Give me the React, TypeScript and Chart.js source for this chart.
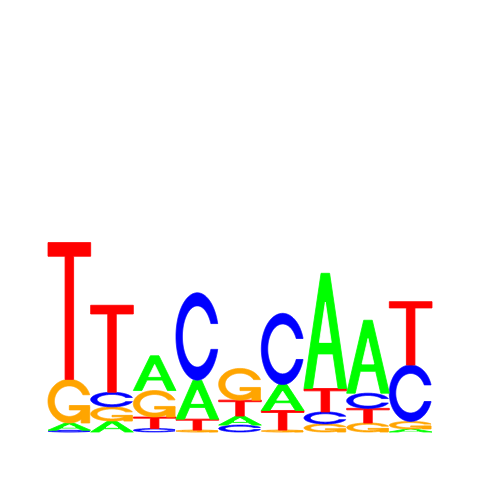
import React, { useEffect, useRef } from "react";
import { Chart, registerables } from "chart.js";

Chart.register(...registerables);

const positions = ["1", "2", "3", "4", "5", "6", "7", "8", "9"];
const letters = ["A", "C", "G", "T"];
const heightA = [0.038, 0.057, 0.181, 0.203, 0.047, 0.135, 0.6, 0.38, 0.016];
const heightC = [0.009, 0.076, 0.018, 0.455, 0.036, 0.371, 0.0625, 0.079, 0.294];
const heightG = [0.227, 0.074, 0.138, 0.01, 0.165, 0.01, 0.042, 0.047, 0.039];
const heightT = [0.7125, 0.453, 0.06, 0.057, 0.083, 0.102, 0.122, 0.076, 0.33];
const letterColors: Record<string, string> = {
  A: "#00FF00",
  C: "#0000FF",
  G: "#FFA500",
  T: "#FF0000",
};

type Poly = { xs: number[]; ys: number[]; white?: boolean };

function seq(a: number, b: number, n: number) {
  const out: number[] = [];
  for (let i = 0; i < n; i++) out.push(a + ((b - a) * i) / (n - 1));
  return out;
}

function ringC(): { xs: number[]; ys: number[]; r1: number } {
  const a1 = seq(0.3 + Math.PI / 2, Math.PI, 100);
  const a2 = seq(Math.PI, 1.5 * Math.PI, 100);
  const xl1 = a1.map((a) => 0.5 + 0.5 * Math.sin(a));
  const yl1 = a1.map((a) => 0.5 + 0.5 * Math.cos(a));
  const xl2 = a2.map((a) => 0.5 + 0.5 * Math.sin(a));
  const yl2 = a2.map((a) => 0.5 + 0.5 * Math.cos(a));
  const xl = [...xl1, ...xl2];
  const yl = [...yl1, ...yl2];
  const x = [...xl, ...[...xl].reverse()];
  const y = [...yl, ...[...yl].reverse().map((v) => 1 - v)];
  const hMax = Math.max(...yl1);
  let xi1 = a1.map((a) => 0.5 + 0.35 * Math.sin(a));
  let yi1 = a1.map((a) => 0.5 + 0.35 * Math.cos(a));
  const keep = yi1.map((v) => v <= hMax);
  xi1 = xi1.filter((_, i) => keep[i]);
  yi1 = yi1.filter((_, i) => keep[i]);
  yi1[0] = hMax;
  const xi2 = a2.map((a) => 0.5 + 0.35 * Math.sin(a));
  const yi2 = a2.map((a) => 0.5 + 0.35 * Math.cos(a));
  const xi = [...xi1, ...xi2];
  const yi = [...yi1, ...yi2];
  const x1 = [...xi, ...[...xi].reverse()];
  const y1 = [...yi, ...[...yi].reverse().map((v) => 1 - v)];
  return {
    xs: [...x, ...[...x1].reverse()],
    ys: [...y, ...[...y1].reverse()],
    r1: Math.max(...xl1),
  };
}

function letterShapes(letter: string): Poly[] {
  if (letter === "A") {
    return [
      {
        xs: [0, 4, 6, 10, 8, 6.8, 3.2, 2, 0].map((v) => v / 10),
        ys: [0, 10, 10, 0, 0, 3, 3, 0, 0].map((v) => v / 10),
      },
      {
        xs: [3.6, 5, 6.4, 3.6].map((v) => v / 10),
        ys: [4, 7.5, 4, 4].map((v) => v / 10),
        white: true,
      },
    ];
  }
  if (letter === "T") {
    return [
      {
        xs: [0, 10, 10, 6, 6, 4, 4, 0].map((v) => v / 10),
        ys: [10, 10, 9, 9, 0, 0, 9, 9].map((v) => v / 10),
      },
    ];
  }
  const c = ringC();
  if (letter === "C") return [{ xs: c.xs, ys: c.ys }];
  const h1 = 0.4;
  const r1 = c.r1;
  return [
    { xs: c.xs, ys: c.ys },
    {
      xs: [r1, 0.5, 0.5, r1 - 0.2, r1 - 0.2, r1, r1],
      ys: [h1, h1, h1 - 0.1, h1 - 0.1, 0, 0, h1],
    },
  ];
}

const glyphPlugin = {
  id: "glyphs",
  afterDatasetsDraw(chart: any) {
    const ctx: CanvasRenderingContext2D = chart.ctx;
    chart.data.datasets.forEach((ds: any, di: number) => {
      const meta = chart.getDatasetMeta(di);
      meta.data.forEach((el: any, i: number) => {
        const letter = ds.letters[i];
        const top = Math.min(el.y, el.base);
        const bottom = Math.max(el.y, el.base);
        const h = bottom - top;
        const w = el.width;
        const left = el.x - w / 2;
        if (h <= 0) return;
        ctx.save();
        for (const p of letterShapes(letter)) {
          const col = p.white ? "#FFFFFF" : letterColors[letter];
          ctx.beginPath();
          p.xs.forEach((x, k) => {
            const px = left + x * w;
            const py = bottom - p.ys[k] * h;
            if (k === 0) ctx.moveTo(px, py);
            else ctx.lineTo(px, py);
          });
          ctx.closePath();
          ctx.fillStyle = col;
          ctx.fill();
          ctx.strokeStyle = col;
          ctx.lineWidth = 0.8;
          ctx.stroke();
        }
        ctx.restore();
      });
    });
  },
};

export default function App() {
  const ref = useRef<HTMLCanvasElement>(null);
  useEffect(() => {
    if (!ref.current) return;
    const table = [heightA, heightC, heightG, heightT];
    const ranked: { letters: string[]; data: number[] }[] = letters.map(() => ({ letters: [], data: [] }));
    positions.forEach((_, i) => {
      const col = letters.map((l, k) => ({ l, v: table[k][i] })).sort((a, b) => a.v - b.v);
      col.forEach((c, r) => {
        ranked[r].letters.push(c.l);
        ranked[r].data.push(c.v);
      });
    });
    const chart = new Chart(ref.current, {
      type: "bar",
      data: {
        labels: positions,
        datasets: ranked.map((r, k) => ({
          label: "rank" + k,
          data: r.data,
          letters: r.letters,
          backgroundColor: "rgba(0,0,0,0)",
          borderWidth: 0,
          categoryPercentage: 1,
          barPercentage: 1,
        })) as any,
      },
      options: {
        animation: false,
        responsive: false,
        devicePixelRatio: 1,
        layout: { padding: { left: 48, right: 48, top: 48, bottom: 48 } },
        plugins: { legend: { display: false }, tooltip: { enabled: false } },
        scales: {
          x: { stacked: true, display: false, grid: { display: false } },
          y: { stacked: true, display: false, min: 0, max: 2 },
        },
      },
      plugins: [glyphPlugin],
    });
    return () => chart.destroy();
  }, []);
  return (
    <div style={{ position: "absolute", left: 0, top: 0, width: 480, height: 480, background: "#fff" }}>
      <canvas ref={ref} width={480} height={480} style={{ width: 480, height: 480 }} />
    </div>
  );
}
